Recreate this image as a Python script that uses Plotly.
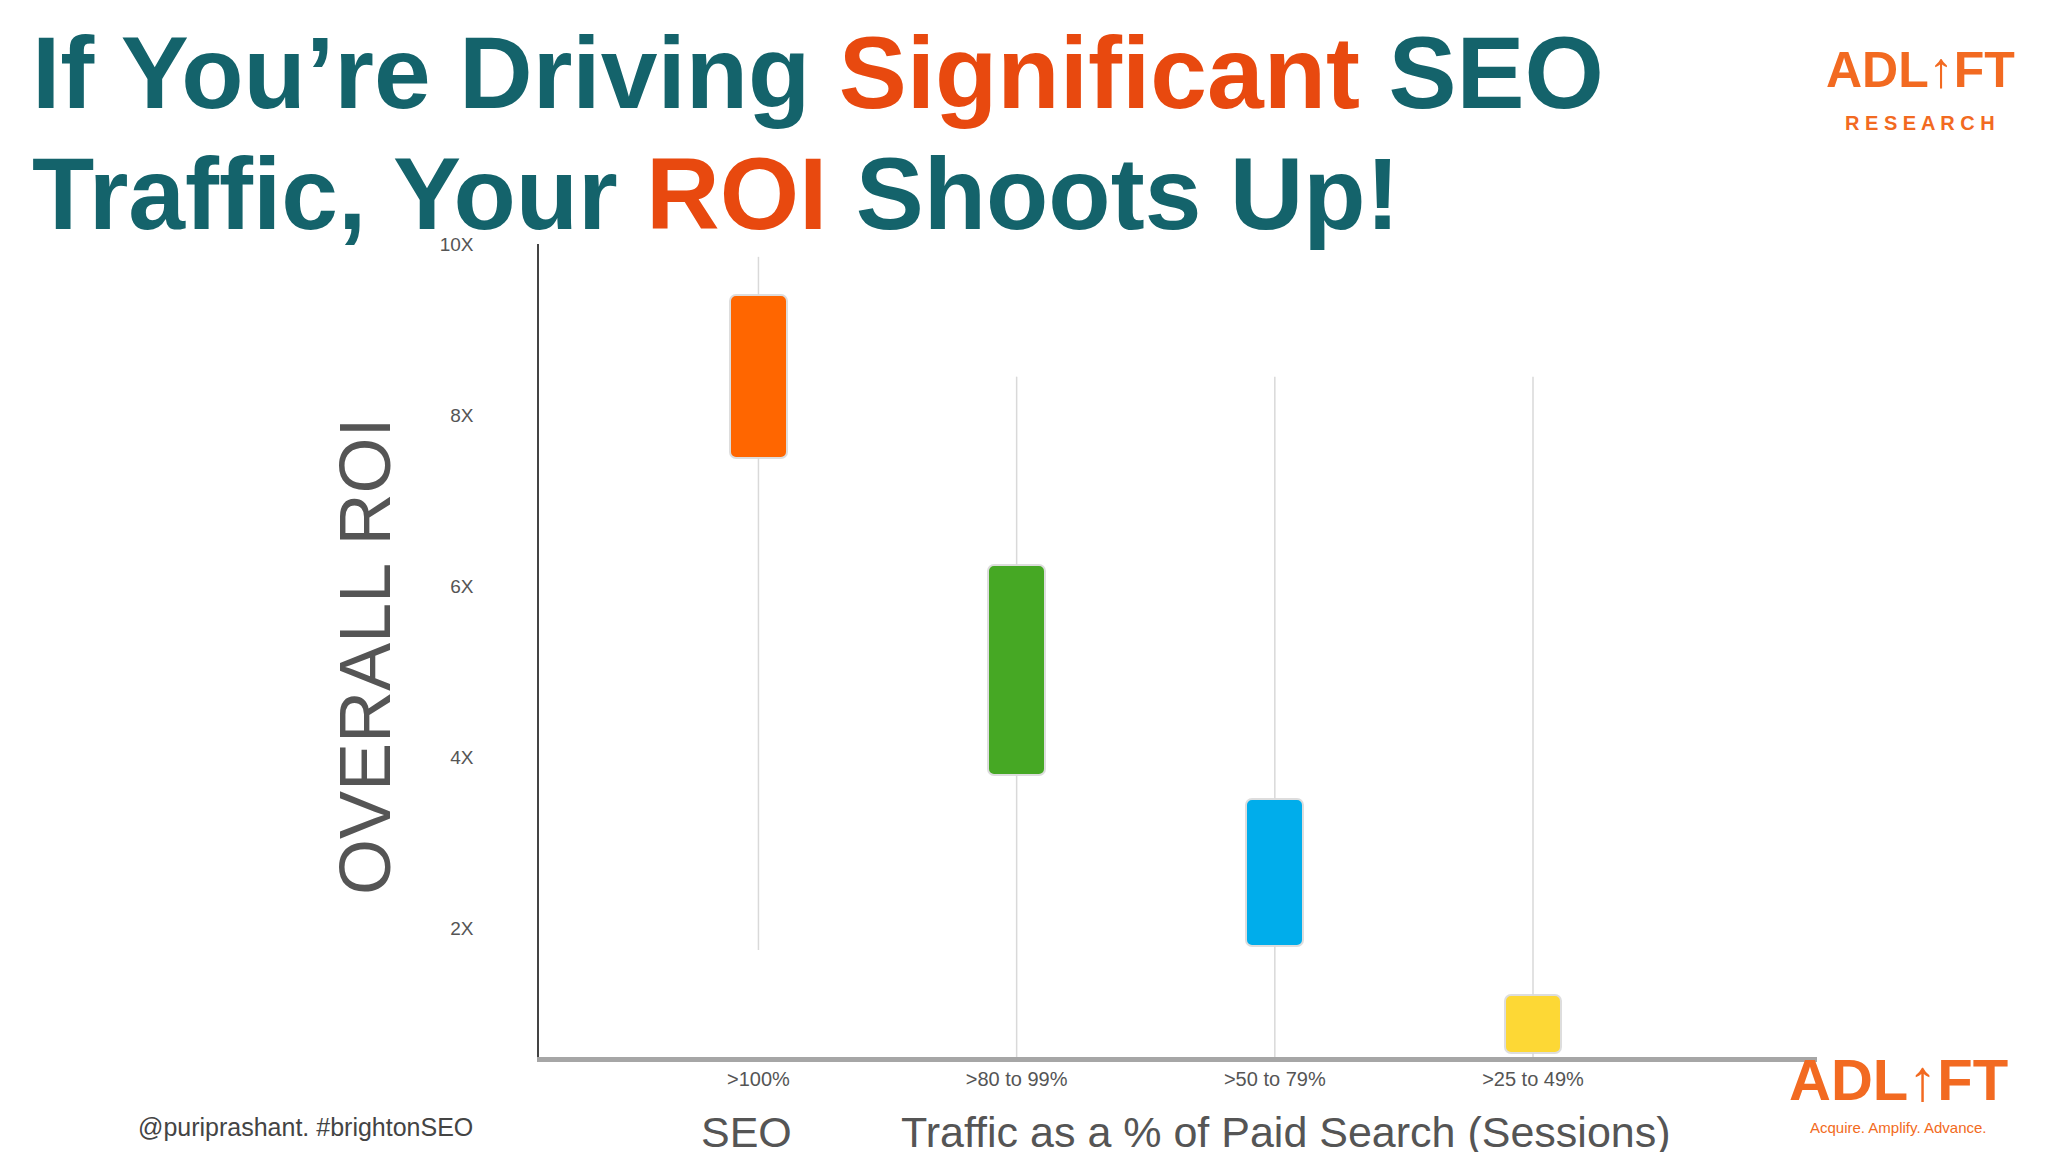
import plotly.graph_objects as go

categories = [">100%", ">80 to 99%", ">50 to 79%", ">25 to 49%"]
box_low = [7.5, 3.8, 1.8, 0.55]
box_high = [9.4, 6.25, 3.52, 1.22]
whisker_low = [1.75, 0.5, 0.5, 0.5]
whisker_high = [9.85, 8.45, 8.45, 8.45]
colors = ["#ff6600", "#46a824", "#00adeb", "#fdd835"]
ytick_vals = [2, 4, 6, 8, 10]
ytick_text = ["2X", "4X", "6X", "8X", "10X"]

TEAL = "#14636b"
ORANGE = "#e8490f"
L, R, T, B = 531, 239, 236, 103

fig = go.Figure()
wx, wy = [], []
for c, lo, blo, bhi, hi in zip(categories, whisker_low, box_low, box_high, whisker_high):
    if blo > lo:
        wx += [c, c, None]
        wy += [lo, blo, None]
    wx += [c, c, None]
    wy += [bhi, hi, None]
fig.add_trace(go.Scatter(x=wx, y=wy, mode="lines", line=dict(color="#d9d9d9", width=1.5),
                         hoverinfo="skip", showlegend=False))
fig.add_trace(go.Bar(x=categories, y=[h - l for h, l in zip(box_high, box_low)], base=box_low,
                     width=0.22, marker=dict(color=colors, cornerradius=6,
                                             line=dict(color="#dddddd", width=2)),
                     showlegend=False))

fig.update_layout(
    width=2048, height=1152, paper_bgcolor="white", plot_bgcolor="white",
    margin=dict(l=L, r=R, t=T, b=B),
    font=dict(family="Liberation Sans, Arial", color="#555555"),
    xaxis=dict(type="category", range=[-0.85, 4.1], showgrid=False, ticks="",
               tickfont=dict(size=20, color="#555555"), showline=True, linecolor="#a6a6a6",
               linewidth=5, zeroline=False),
    yaxis=dict(range=[0.5, 10.0], tickvals=ytick_vals, ticktext=ytick_text, showgrid=False,
               zeroline=False, showline=True, linecolor="#444444", linewidth=1.5,
               ticks="", ticklabelstandoff=60, tickfont=dict(size=19, color="#555555")),
    bargap=0,
)

ann = [
    dict(x=22, y=124, text=f"If You’re Driving <span style='color:{ORANGE}'>Significant</span> SEO",
         size=102, color=TEAL, bold=True, xa="left"),
    dict(x=22, y=245, text=f"Traffic, Your <span style='color:{ORANGE}'>ROI</span> Shoots Up!",
         size=102, color=TEAL, bold=True, xa="left"),
    dict(x=1912, y=92, text="ADL↑FT", size=50, color="#f26a21", bold=True, xa="center"),
    dict(x=1912, y=128, text="R E S E A R C H", size=20, color="#f26a21", bold=True, xa="center"),
    dict(x=1890, y=1106, text="ADL↑FT", size=58, color="#f26a21", bold=True, xa="center"),
    dict(x=1890, y=1130, text="Acquire. Amplify. Advance.", size=15, color="#f26a21", bold=False, xa="center"),
    dict(x=128, y=1135, text="@puriprashant. #brightonSEO", size=25, color="#444444", bold=False, xa="left"),
    dict(x=738, y=1150, text="SEO", size=43, color="#555555", bold=False, xa="center"),
    dict(x=1278, y=1150, text="Traffic as a % of Paid Search (Sessions)", size=43, color="#555555", bold=False, xa="center"),
]
pw, ph = 2048 - L - R, 1152 - T - B
for a in ann:
    txt = f"<b>{a['text']}</b>" if a["bold"] else a["text"]
    fig.add_annotation(x=(a["x"] - L) / pw, y=(1152 - B - a["y"]) / ph, xref="paper", yref="paper",
                       text=txt, showarrow=False, xanchor=a["xa"], yanchor="bottom",
                       font=dict(size=a["size"], color=a["color"], family="Liberation Sans, Arial"))

fig.add_annotation(x=(357 - L) / pw, y=(1152 - B - 648) / ph, xref="paper", yref="paper",
                   text="OVERALL ROI", textangle=-90, showarrow=False, xanchor="center", yanchor="middle",
                   font=dict(size=72, color="#555555", family="Liberation Sans, Arial"))

fig.write_html("out.html")
